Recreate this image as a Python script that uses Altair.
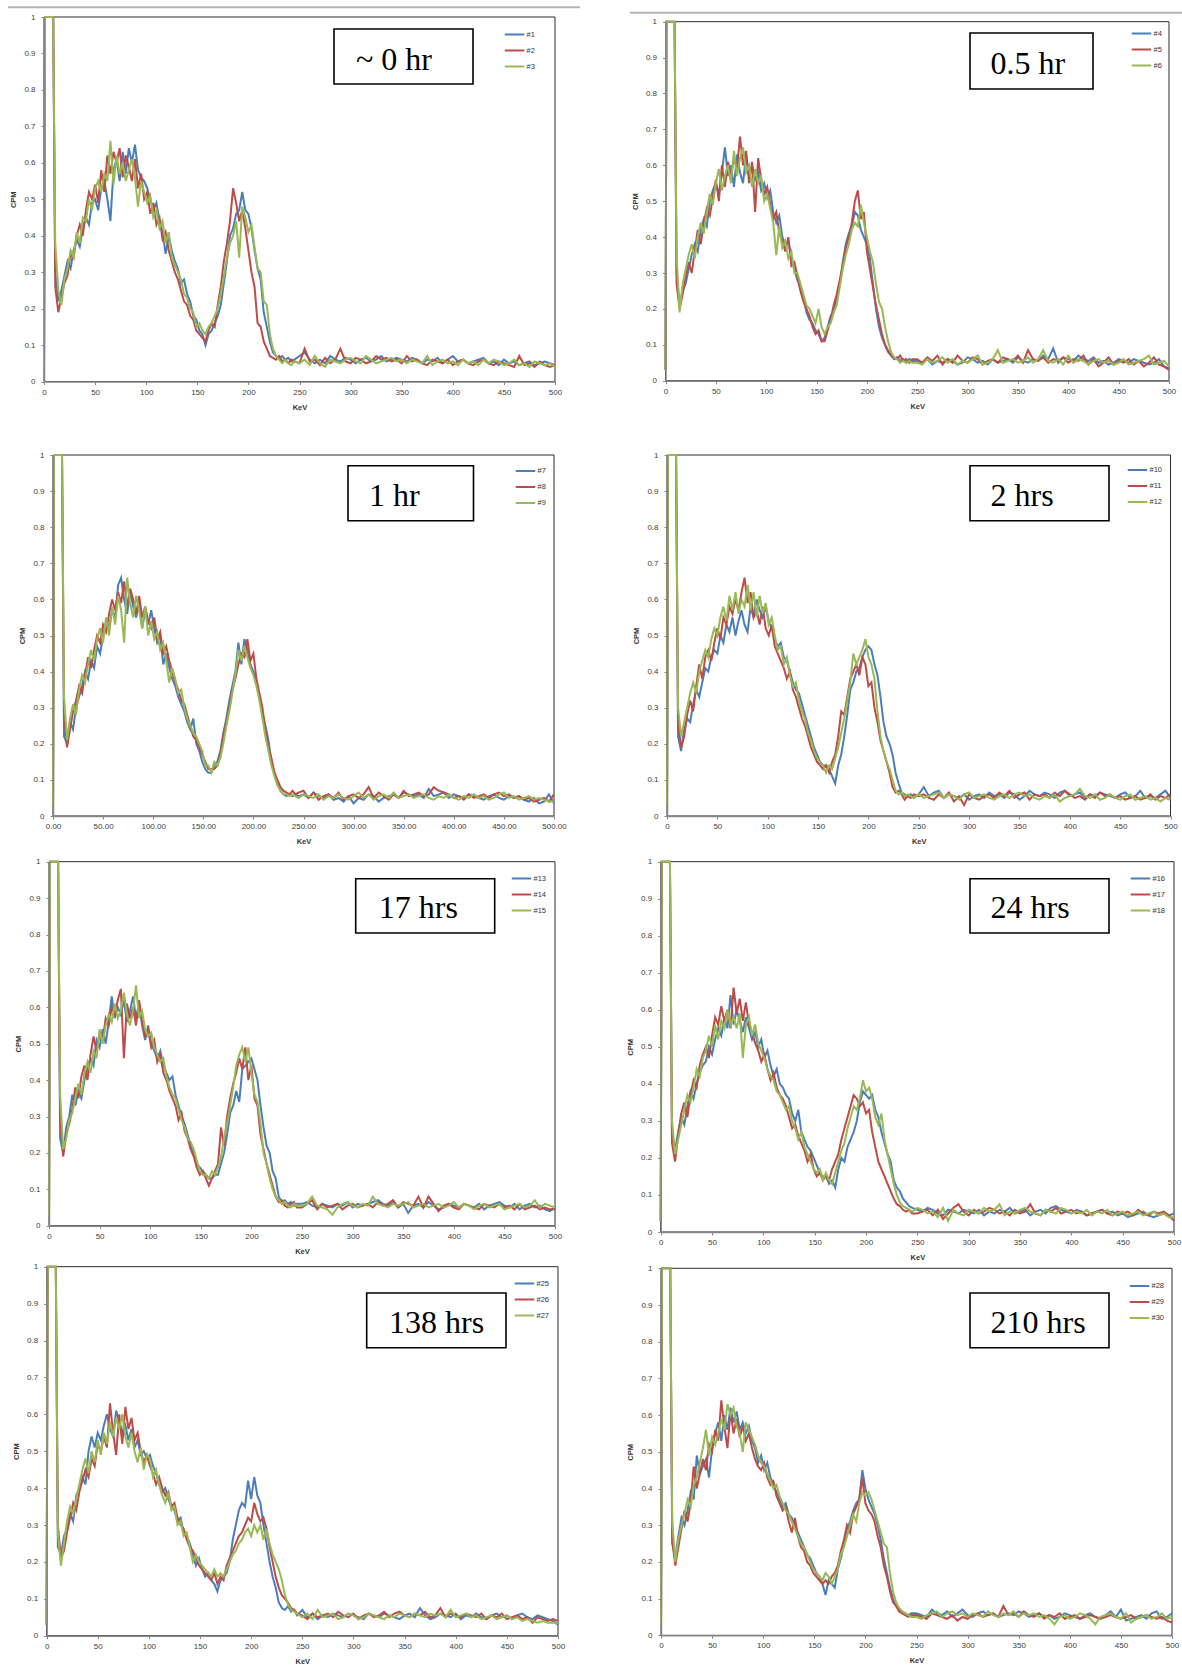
import altair as alt
import pandas as pd

# ---------------- energy grid (keV) ----------------
KEV_MAIN = [0, 1, 9,
    11, 14, 17, 20, 23, 26, 29, 32, 35, 38,
    41, 44, 47, 50, 53, 56, 59, 62, 65, 68,
    71, 74, 77, 80, 83, 86, 89, 92, 95, 98,
    101, 104, 107, 110, 113, 116, 119, 122, 125, 128,
    131, 134, 137, 140, 143, 146, 149, 152, 155, 158,
    161, 164, 167, 170, 173, 176, 179, 182, 185, 188,
    191, 194, 197, 200, 203, 206, 209, 212, 215, 218,
    221, 224, 227, 230, 233, 236, 239, 242, 245]
KEV_TAIL = [250, 255, 260, 265, 270, 275, 280, 285, 290, 295,
    300, 305, 310, 315, 320, 325, 330, 335, 340, 345,
    350, 355, 360, 365, 370, 375, 380, 385, 390, 395,
    400, 405, 410, 415, 420, 425, 430, 435, 440, 445,
    450, 455, 460, 465, 470, 475, 480, 485, 490, 495,
    500]

# ---------------- CPM values, 0..245 keV ----------------
P1_1 = [.03, 1.3, 1.3,
    .30, .22, .25, .29, .33, .31, .36, .39, .37, .42,
    .45, .43, .49, .50, .47, .53, .55, .50, .44, .58,
    .61, .55, .63, .57, .64, .60, .65, .58, .56, .55,
    .53, .50, .47, .49, .44, .41, .35, .40, .36, .33,
    .31, .27, .28, .24, .22, .18, .17, .14, .13, .10,
    .13, .14, .16, .18, .21, .27, .33, .40, .42, .46,
    .47, .52, .47, .46, .42, .36, .31, .28, .19, .15,
    .11, .08, .07, .065, .07, .06, .065, .055, .06]
P1_2 = [.03, 1.3, 1.3,
    .26, .19, .23, .27, .29, .35, .34, .40, .43, .40,
    .47, .52, .50, .54, .49, .58, .52, .62, .57, .63,
    .60, .64, .56, .62, .59, .55, .61, .53, .57, .50,
    .52, .46, .49, .43, .45, .39, .41, .36, .33, .30,
    .28, .25, .22, .21, .18, .17, .14, .13, .12, .11,
    .14, .16, .15, .21, .26, .33, .38, .44, .53, .49,
    .44, .47, .42, .36, .30, .26, .16, .15, .11, .09,
    .07, .065, .06, .07, .055, .06, .05, .06, .055]
P1_3 = [.03, 1.3, 1.3,
    .38, .25, .21, .28, .31, .36, .34, .41, .38, .45,
    .44, .50, .47, .53, .55, .52, .57, .55, .66, .54,
    .62, .57, .60, .55, .58, .61, .56, .48, .55, .52,
    .49, .51, .45, .47, .42, .44, .38, .41, .34, .32,
    .30, .28, .24, .23, .20, .19, .15, .16, .14, .13,
    .15, .16, .18, .20, .24, .29, .34, .38, .40, .44,
    .34, .48, .45, .41, .43, .37, .31, .30, .22, .21,
    .13, .09, .07, .06, .05, .06, .05, .045, .055]

P2_1 = [.03, 1.3, 1.3,
    .30, .21, .25, .27, .31, .35, .38, .36, .42, .45,
    .43, .50, .53, .55, .52, .58, .65, .57, .60, .54,
    .63, .58, .55, .63, .57, .60, .56, .58, .53, .55,
    .51, .53, .47, .44, .46, .40, .38, .39, .34, .31,
    .28, .26, .23, .19, .17, .16, .14, .13, .11, .12,
    .15, .18, .19, .23, .27, .33, .38, .41, .43, .47,
    .46, .42, .40, .38, .34, .27, .20, .15, .12, .10,
    .08, .07, .06, .065, .055, .06, .05, .06, .055]
P2_2 = [.03, 1.3, 1.3,
    .27, .20, .24, .29, .33, .30, .36, .42, .38, .44,
    .48, .46, .51, .56, .50, .60, .54, .61, .57, .62,
    .59, .68, .60, .64, .55, .61, .47, .62, .56, .52,
    .54, .49, .45, .47, .41, .39, .36, .40, .32, .33,
    .29, .25, .22, .20, .18, .15, .13, .14, .11, .11,
    .14, .17, .21, .24, .28, .32, .37, .40, .44, .50,
    .53, .45, .47, .36, .31, .26, .21, .17, .13, .10,
    .085, .07, .065, .06, .07, .055, .06, .05, .06]
P2_3 = [.03, 1.3, 1.3,
    .35, .19, .27, .31, .35, .38, .34, .40, .44, .41,
    .47, .52, .49, .55, .59, .53, .57, .60, .55, .64,
    .57, .62, .65, .58, .60, .54, .59, .55, .57, .50,
    .52, .48, .44, .35, .43, .37, .39, .34, .36, .30,
    .30, .27, .24, .21, .20, .18, .16, .20, .15, .13,
    .15, .16, .19, .21, .26, .31, .35, .38, .42, .44,
    .43, .49, .44, .40, .36, .33, .27, .22, .20, .15,
    .11, .08, .065, .06, .05, .055, .05, .055, .05]

P3_1 = [.03, 1.3, 1.3,
    .22, .20, .26, .24, .30, .33, .36, .40, .38, .43,
    .41, .47, .45, .50, .54, .52, .57, .55, .64, .66,
    .60, .56, .62, .58, .55, .59, .52, .57, .53, .57,
    .52, .48, .50, .42, .45, .41, .38, .36, .33, .31,
    .29, .26, .24, .27, .20, .18, .15, .13, .12, .12,
    .14, .15, .18, .23, .27, .32, .36, .40, .48, .42,
    .49, .46, .42, .40, .37, .33, .28, .25, .21, .15,
    .12, .09, .07, .06, .055, .06, .055, .06, .055]
P3_2 = [.03, 1.3, 1.3,
    .29, .19, .24, .29, .32, .36, .34, .39, .44, .41,
    .46, .50, .48, .53, .51, .56, .60, .57, .62, .59,
    .65, .58, .63, .60, .56, .61, .55, .58, .54, .52,
    .55, .49, .51, .45, .47, .43, .40, .37, .35, .32,
    .31, .28, .25, .22, .21, .19, .17, .15, .13, .13,
    .13, .14, .17, .22, .26, .30, .35, .38, .42, .45,
    .44, .49, .43, .45, .38, .34, .30, .24, .19, .16,
    .12, .10, .08, .07, .065, .06, .07, .06, .065]
P3_3 = [.03, 1.3, 1.3,
    .33, .21, .27, .31, .28, .35, .39, .37, .42, .46,
    .43, .49, .52, .48, .55, .50, .58, .53, .61, .57,
    .48, .66, .59, .55, .61, .57, .52, .58, .50, .54,
    .49, .51, .46, .48, .43, .37, .41, .38, .34, .35,
    .30, .27, .25, .23, .22, .20, .18, .14, .14, .12,
    .15, .14, .16, .20, .25, .29, .34, .39, .46, .43,
    .47, .44, .41, .39, .36, .32, .27, .22, .18, .14,
    .11, .085, .07, .06, .06, .055, .06, .055, .05]

P4_1 = [.03, 1.3, 1.3,
    .22, .18, .24, .27, .26, .31, .35, .33, .37, .41,
    .40, .44, .46, .45, .50, .48, .53, .51, .55, .50,
    .54, .57, .53, .51, .58, .55, .60, .57, .55, .58,
    .54, .52, .49, .47, .48, .44, .43, .40, .37, .35,
    .34, .31, .28, .25, .22, .19, .17, .15, .14, .14,
    .13, .11, .09, .14, .17, .22, .28, .35, .37, .40,
    .41, .44, .46, .47, .46, .42, .39, .33, .26, .22,
    .20, .17, .12, .09, .065, .06, .055, .06, .05]
P4_2 = [.03, 1.3, 1.3,
    .26, .19, .22, .28, .32, .29, .36, .42, .38, .44,
    .46, .43, .48, .52, .49, .55, .53, .58, .56, .60,
    .57, .62, .66, .59, .62, .55, .57, .53, .58, .52,
    .50, .53, .47, .45, .43, .41, .38, .40, .35, .33,
    .30, .27, .25, .22, .19, .17, .15, .14, .13, .14,
    .12, .15, .17, .22, .29, .28, .33, .38, .40, .42,
    .39, .44, .42, .36, .37, .30, .26, .21, .18, .15,
    .12, .08, .065, .07, .06, .045, .055, .05, .06]
P4_3 = [.03, 1.3, 1.3,
    .30, .22, .26, .30, .34, .37, .34, .40, .43, .46,
    .44, .49, .52, .50, .55, .58, .54, .61, .57, .62,
    .56, .60, .58, .64, .57, .62, .55, .61, .56, .59,
    .53, .55, .50, .46, .47, .42, .44, .39, .36, .37,
    .32, .29, .27, .23, .21, .18, .16, .15, .14, .12,
    .14, .13, .16, .19, .23, .27, .32, .37, .45, .42,
    .44, .46, .49, .44, .42, .38, .29, .22, .18, .15,
    .13, .10, .07, .06, .065, .055, .06, .055, .05]

P5_1 = [.03, 1.3, 1.3,
    .24, .20, .27, .30, .36, .33, .37, .35, .40, .43,
    .46, .44, .51, .49, .54, .50, .56, .63, .57, .60,
    .58, .62, .56, .59, .63, .57, .61, .55, .51, .55,
    .50, .48, .46, .48, .44, .42, .40, .41, .36, .33,
    .30, .28, .25, .22, .20, .17, .16, .15, .14, .13,
    .13, .14, .14, .17, .20, .25, .31, .33, .37, .34,
    .43, .44, .45, .46, .43, .40, .33, .27, .22, .20,
    .15, .13, .08, .065, .07, .06, .065, .055, .06]
P5_2 = [.03, 1.3, 1.3,
    .30, .19, .25, .28, .32, .38, .35, .41, .44, .40,
    .47, .52, .48, .53, .51, .57, .55, .60, .58, .62,
    .65, .46, .61, .57, .60, .55, .62, .56, .52, .54,
    .49, .51, .45, .47, .42, .40, .37, .35, .33, .29,
    .31, .26, .24, .21, .19, .16, .14, .15, .13, .11,
    .13, .15, .17, .27, .22, .30, .35, .39, .42, .46,
    .43, .49, .40, .44, .35, .33, .25, .21, .17, .14,
    .11, .08, .065, .07, .055, .05, .06, .065, .05]
P5_3 = [.03, 1.3, 1.3,
    .36, .21, .24, .29, .31, .35, .39, .36, .42, .45,
    .42, .48, .46, .54, .50, .55, .58, .56, .61, .57,
    .59, .64, .58, .55, .59, .66, .57, .59, .54, .52,
    .53, .49, .47, .45, .46, .41, .38, .36, .35, .32,
    .29, .27, .24, .23, .21, .18, .15, .14, .14, .13,
    .15, .14, .16, .19, .24, .28, .33, .38, .44, .47,
    .49, .45, .49, .42, .36, .34, .28, .20, .17, .13,
    .10, .08, .07, .06, .065, .055, .05, .06, .055]

P6_1 = [.03, 1.3, 1.3,
    .27, .22, .27, .31, .29, .34, .38, .36, .40, .43,
    .45, .46, .50, .48, .52, .55, .53, .58, .55, .64,
    .56, .60, .57, .54, .58, .55, .52, .54, .50, .52,
    .47, .49, .45, .42, .44, .40, .39, .37, .36, .32,
    .30, .33, .27, .25, .23, .22, .20, .18, .16, .15,
    .15, .13, .14, .12, .17, .20, .19, .23, .25, .27,
    .30, .35, .38, .37, .36, .37, .33, .31, .27, .24,
    .21, .19, .14, .12, .11, .09, .08, .07, .065]
P6_2 = [.03, 1.3, 1.3,
    .24, .19, .26, .32, .35, .31, .37, .41, .39, .45,
    .48, .50, .47, .53, .58, .56, .61, .57, .60, .55,
    .66, .59, .63, .57, .62, .56, .54, .51, .49, .46,
    .48, .44, .41, .43, .39, .37, .36, .34, .31, .28,
    .29, .26, .24, .22, .19, .21, .17, .15, .16, .14,
    .15, .14, .17, .19, .21, .25, .28, .31, .34, .37,
    .36, .34, .35, .32, .33, .27, .23, .19, .17, .15,
    .13, .11, .09, .075, .07, .06, .055, .06, .05]
P6_3 = [.03, 1.3, 1.3,
    .30, .21, .25, .29, .33, .37, .35, .39, .44, .42,
    .47, .49, .53, .50, .56, .52, .57, .55, .60, .56,
    .58, .55, .59, .47, .56, .58, .53, .56, .51, .49,
    .47, .44, .42, .41, .38, .37, .35, .33, .34, .30,
    .28, .25, .27, .23, .21, .19, .17, .16, .17, .14,
    .16, .14, .13, .16, .19, .22, .24, .28, .31, .34,
    .33, .36, .41, .38, .39, .36, .31, .29, .32, .25,
    .21, .17, .13, .10, .08, .07, .065, .06, .055]

P7_1 = [.03, 1.3, 1.3,
    .24, .22, .27, .29, .33, .31, .38, .40, .43, .41,
    .50, .54, .51, .55, .53, .57, .60, .56, .54, .61,
    .58, .55, .57, .53, .56, .51, .53, .49, .50, .48,
    .49, .46, .44, .41, .39, .40, .37, .35, .34, .31,
    .32, .28, .27, .25, .22, .19, .21, .18, .16, .17,
    .15, .14, .12, .15, .16, .17, .20, .26, .30, .34,
    .36, .35, .42, .37, .43, .38, .36, .30, .25, .20,
    .16, .13, .09, .075, .07, .08, .065, .07, .055]
P7_2 = [.03, 1.3, 1.3,
    .30, .21, .23, .28, .32, .36, .34, .39, .42, .45,
    .43, .48, .46, .52, .50, .54, .51, .63, .55, .49,
    .60, .52, .62, .56, .59, .53, .55, .50, .47, .49,
    .46, .44, .41, .43, .40, .38, .39, .35, .36, .32,
    .30, .29, .26, .24, .23, .21, .19, .18, .17, .16,
    .15, .17, .14, .16, .15, .19, .21, .23, .25, .27,
    .28, .30, .32, .31, .36, .33, .31, .32, .29, .24,
    .20, .16, .13, .11, .10, .09, .075, .07, .06]
P7_3 = [.03, 1.3, 1.3,
    .28, .19, .25, .31, .35, .33, .37, .41, .45, .48,
    .44, .50, .47, .53, .49, .55, .52, .58, .54, .59,
    .56, .60, .54, .51, .55, .50, .47, .51, .45, .49,
    .48, .43, .45, .41, .38, .36, .39, .34, .35, .30,
    .31, .27, .28, .24, .20, .22, .20, .19, .18, .17,
    .16, .18, .16, .17, .16, .18, .20, .22, .23, .25,
    .26, .28, .29, .27, .30, .28, .30, .26, .29, .25,
    .22, .20, .18, .15, .11, .085, .07, .065, .06]

P8_1 = [.03, 1.3, 1.3,
    .25, .21, .27, .32, .30, .34, .39, .37, .49, .44,
    .46, .48, .43, .51, .55, .58, .53, .60, .56, .62,
    .58, .61, .56, .58, .55, .57, .53, .51, .47, .49,
    .45, .47, .43, .41, .39, .37, .35, .36, .33, .32,
    .30, .28, .26, .24, .22, .21, .19, .17, .16, .14,
    .11, .15, .14, .13, .18, .21, .25, .29, .31, .34,
    .36, .37, .45, .40, .37, .35, .33, .30, .26, .21,
    .17, .13, .10, .08, .07, .065, .06, .055, .06]
P8_2 = [.03, 1.3, 1.3,
    .26, .19, .24, .29, .34, .31, .36, .46, .40, .44,
    .48, .45, .52, .50, .56, .53, .64, .57, .51, .61,
    .55, .59, .54, .57, .53, .55, .51, .48, .46, .45,
    .47, .43, .41, .42, .38, .36, .34, .35, .31, .28,
    .32, .27, .24, .23, .20, .19, .17, .16, .15, .14,
    .15, .14, .16, .17, .19, .23, .26, .30, .28, .33,
    .35, .37, .43, .36, .34, .33, .31, .27, .24, .19,
    .16, .12, .09, .08, .065, .06, .055, .05, .055]
P8_3 = [.03, 1.3, 1.3,
    .31, .20, .26, .30, .33, .37, .35, .41, .43, .47,
    .51, .56, .49, .54, .52, .55, .59, .56, .63, .60,
    .62, .57, .55, .50, .58, .56, .54, .52, .49, .47,
    .46, .44, .42, .40, .41, .38, .36, .34, .33, .31,
    .29, .27, .25, .24, .22, .20, .18, .17, .16, .15,
    .17, .16, .14, .16, .18, .22, .24, .27, .30, .33,
    .31, .36, .39, .38, .39, .37, .34, .31, .28, .25,
    .24, .17, .12, .09, .075, .065, .06, .055, .05]

# ---------------- CPM values, 250..500 keV ----------------
T1_1 = [.07, .08, .06, .05, .06, .05, .07, .06, .055, .065,
    .06, .05, .06, .065, .055, .06, .07, .055, .06, .065,
    .06, .055, .065, .06, .05, .06, .055, .065, .05, .06,
    .07, .055, .06, .05, .055, .06, .065, .05, .055, .045,
    .06, .05, .055, .045, .05, .055, .045, .05, .055, .05, .045]
T1_2 = [.05, .09, .055, .06, .045, .065, .05, .06, .09, .055,
    .05, .065, .06, .05, .055, .07, .06, .065, .055, .06,
    .05, .07, .055, .06, .05, .045, .06, .055, .05, .06,
    .045, .055, .06, .05, .045, .055, .06, .05, .045, .055,
    .05, .045, .04, .07, .045, .05, .04, .055, .045, .04, .045]
T1_3 = [.05, .06, .045, .07, .05, .04, .06, .055, .05, .06,
    .065, .055, .05, .07, .06, .05, .055, .06, .065, .055,
    .06, .05, .06, .055, .05, .07, .045, .055, .06, .05,
    .055, .045, .06, .05, .055, .045, .06, .05, .06, .055,
    .045, .05, .06, .045, .05, .04, .055, .05, .045, .05, .04]
T2_1 = [.055, .05, .06, .045, .055, .05, .06, .055, .045, .05,
    .065, .06, .05, .055, .045, .06, .05, .055, .06, .05,
    .065, .055, .05, .06, .055, .07, .06, .09, .05, .065,
    .06, .055, .07, .06, .055, .065, .05, .055, .045, .05,
    .06, .055, .05, .06, .055, .05, .045, .05, .06, .04, .035]
T2_2 = [.06, .05, .065, .055, .07, .045, .06, .05, .07, .055,
    .05, .065, .06, .045, .055, .06, .05, .065, .06, .055,
    .07, .05, .085, .06, .055, .065, .05, .06, .055, .065,
    .05, .06, .055, .07, .045, .06, .04, .05, .065, .045,
    .055, .05, .06, .045, .055, .04, .05, .065, .045, .04, .03]
T2_3 = [.05, .045, .06, .05, .055, .065, .05, .06, .045, .055,
    .05, .06, .07, .045, .05, .06, .085, .05, .055, .06,
    .05, .055, .065, .05, .06, .085, .055, .05, .06, .045,
    .07, .05, .06, .055, .045, .055, .06, .05, .055, .045,
    .05, .06, .045, .05, .055, .06, .07, .045, .05, .055, .04]
T3_1 = [.06, .05, .065, .055, .05, .06, .045, .05, .04, .055,
    .035, .05, .045, .06, .055, .04, .05, .055, .06, .05,
    .065, .06, .055, .06, .05, .075, .055, .06, .065, .05,
    .06, .055, .05, .06, .055, .05, .045, .055, .06, .05,
    .045, .055, .05, .055, .045, .04, .05, .035, .04, .06, .035]
T3_2 = [.07, .05, .065, .045, .055, .06, .05, .065, .045, .055,
    .06, .05, .06, .08, .05, .065, .055, .045, .06, .05,
    .07, .055, .06, .065, .055, .06, .08, .07, .065, .06,
    .05, .055, .045, .06, .05, .055, .06, .05, .06, .065,
    .055, .06, .05, .055, .045, .05, .04, .045, .05, .04, .06]
T3_3 = [.06, .055, .05, .06, .045, .055, .05, .06, .05, .045,
    .055, .065, .05, .06, .045, .055, .06, .05, .065, .05,
    .055, .06, .05, .055, .06, .05, .045, .055, .05, .06,
    .05, .045, .055, .05, .06, .05, .055, .045, .05, .06,
    .065, .05, .055, .045, .05, .055, .045, .05, .045, .04, .04]
T4_1 = [.06, .08, .055, .065, .07, .05, .06, .055, .05, .06,
    .045, .055, .06, .05, .065, .055, .06, .05, .065, .06,
    .045, .055, .07, .06, .055, .065, .06, .05, .065, .07,
    .055, .06, .065, .05, .06, .055, .065, .06, .055, .05,
    .06, .065, .05, .055, .07, .05, .055, .05, .06, .07, .05]
T4_2 = [.055, .06, .05, .045, .06, .05, .065, .04, .055, .03,
    .06, .05, .045, .055, .06, .05, .065, .055, .07, .05,
    .06, .065, .045, .06, .055, .06, .05, .065, .055, .07,
    .06, .05, .055, .045, .06, .05, .065, .055, .06, .05,
    .055, .045, .05, .055, .045, .05, .06, .045, .055, .05, .06]
T4_3 = [.06, .05, .055, .06, .065, .05, .06, .055, .045, .06,
    .065, .05, .055, .06, .05, .045, .055, .06, .05, .06,
    .065, .055, .06, .05, .045, .055, .05, .06, .04, .05,
    .055, .06, .075, .055, .05, .06, .045, .05, .06, .05,
    .045, .055, .06, .045, .05, .055, .045, .05, .04, .05, .045]
T5_1 = [.06, .065, .055, .05, .06, .055, .05, .06, .055, .065,
    .05, .06, .055, .06, .065, .07, .06, .055, .065, .05,
    .06, .035, .055, .06, .05, .065, .055, .045, .05, .06,
    .055, .05, .06, .055, .05, .06, .045, .055, .06, .065,
    .055, .05, .06, .045, .055, .06, .05, .055, .045, .04, .05]
T5_2 = [.05, .06, .07, .045, .06, .05, .055, .06, .045, .055,
    .06, .05, .055, .06, .05, .065, .055, .06, .07, .05,
    .065, .06, .055, .08, .05, .08, .06, .04, .055, .06,
    .05, .045, .06, .055, .05, .045, .06, .055, .05, .06,
    .05, .055, .045, .06, .045, .05, .055, .045, .05, .045, .045]
T5_3 = [.055, .06, .08, .055, .05, .045, .03, .05, .06, .065,
    .055, .05, .06, .055, .08, .06, .055, .05, .06, .055,
    .06, .065, .05, .055, .06, .05, .055, .06, .05, .055,
    .065, .05, .06, .055, .045, .055, .06, .05, .055, .06,
    .045, .05, .055, .06, .05, .055, .07, .05, .06, .055, .05]
T6_1 = [.06, .055, .065, .06, .05, .045, .06, .055, .05, .06,
    .055, .05, .06, .045, .055, .05, .06, .055, .065, .05,
    .055, .06, .045, .055, .06, .05, .065, .07, .06, .055,
    .05, .06, .055, .045, .05, .055, .06, .05, .055, .045,
    .05, .04, .045, .05, .055, .045, .04, .045, .05, .045, .05]
T6_2 = [.05, .055, .06, .045, .06, .035, .05, .065, .075, .055,
    .045, .06, .05, .055, .065, .06, .05, .055, .045, .06,
    .05, .055, .075, .05, .045, .06, .055, .065, .05, .055,
    .06, .05, .055, .045, .05, .055, .06, .05, .045, .055,
    .05, .055, .045, .06, .05, .045, .055, .05, .055, .045, .03]
T6_3 = [.065, .06, .05, .055, .04, .065, .03, .06, .05, .045,
    .06, .055, .05, .065, .055, .06, .075, .045, .055, .05,
    .06, .065, .055, .05, .045, .06, .055, .05, .065, .06,
    .05, .055, .05, .06, .045, .055, .05, .06, .045, .05,
    .055, .045, .05, .055, .045, .05, .055, .045, .05, .04, .04]
T7_1 = [.07, .05, .06, .045, .055, .05, .06, .055, .05, .06,
    .055, .05, .045, .06, .055, .05, .06, .055, .05, .045,
    .055, .06, .05, .075, .055, .045, .05, .06, .055, .05,
    .06, .045, .055, .05, .06, .05, .045, .055, .06, .05,
    .055, .045, .055, .06, .05, .045, .055, .05, .045, .04, .03]
T7_2 = [.055, .045, .06, .05, .055, .06, .05, .065, .055, .05,
    .06, .045, .055, .06, .05, .055, .065, .05, .06, .065,
    .055, .05, .06, .055, .065, .05, .055, .075, .05, .06,
    .055, .05, .06, .055, .05, .06, .045, .055, .05, .06,
    .045, .05, .055, .045, .05, .035, .05, .045, .04, .045, .04]
T7_3 = [.05, .06, .045, .07, .05, .055, .06, .045, .05, .06,
    .055, .045, .05, .06, .055, .05, .045, .055, .05, .06,
    .055, .05, .06, .055, .05, .06, .055, .06, .05, .07,
    .05, .055, .06, .05, .055, .045, .05, .055, .045, .05,
    .055, .045, .05, .04, .045, .04, .035, .04, .035, .035, .035]
T8_1 = [.06, .055, .05, .07, .06, .055, .065, .05, .06, .07,
    .055, .05, .06, .065, .055, .06, .05, .055, .06, .055,
    .065, .06, .05, .055, .06, .05, .055, .045, .05, .06,
    .055, .05, .045, .055, .06, .05, .045, .055, .065, .05,
    .07, .04, .045, .05, .055, .045, .06, .065, .045, .05, .06]
T8_2 = [.055, .05, .045, .06, .055, .05, .045, .055, .04, .05,
    .045, .055, .06, .05, .055, .06, .05, .08, .055, .06,
    .05, .065, .055, .05, .06, .045, .055, .05, .06, .045,
    .05, .055, .045, .05, .055, .05, .045, .05, .055, .05,
    .045, .05, .055, .045, .05, .055, .05, .045, .05, .04, .035]
T8_3 = [.05, .045, .055, .06, .065, .05, .06, .065, .055, .06,
    .05, .06, .055, .05, .065, .055, .05, .06, .055, .065,
    .05, .06, .055, .06, .05, .055, .045, .03, .05, .055,
    .045, .05, .06, .055, .045, .03, .05, .055, .06, .05,
    .045, .06, .035, .045, .05, .055, .045, .05, .06, .045, .05]

MAINS = [[P1_1, P1_2, P1_3], [P2_1, P2_2, P2_3], [P3_1, P3_2, P3_3], [P4_1, P4_2, P4_3],
         [P5_1, P5_2, P5_3], [P6_1, P6_2, P6_3], [P7_1, P7_2, P7_3], [P8_1, P8_2, P8_3]]
TAILS = [[T1_1, T1_2, T1_3], [T2_1, T2_2, T2_3], [T3_1, T3_2, T3_3], [T4_1, T4_2, T4_3],
         [T5_1, T5_2, T5_3], [T6_1, T6_2, T6_3], [T7_1, T7_2, T7_3], [T8_1, T8_2, T8_3]]

TITLES = ["~ 0 hr", "0.5 hr", "1 hr", "2 hrs", "17 hrs", "24 hrs", "138 hrs", "210 hrs"]
SERIES = [["#1", "#2", "#3"], ["#4", "#5", "#6"], ["#7", "#8", "#9"], ["#10", "#11", "#12"],
          ["#13", "#14", "#15"], ["#16", "#17", "#18"], ["#25", "#26", "#27"], ["#28", "#29", "#30"]]
X_TICKS = [0, 50, 100, 150, 200, 250, 300, 350, 400, 450, 500]
Y_TICKS = [0, 0.1, 0.2, 0.3, 0.4, 0.5, 0.6, 0.7, 0.8, 0.9, 1]
X_FORMATS = ["d", "d", ".2f", "d", "d", "d", "d", "d"]
COLORS = ["#4a7ebb", "#be4b48", "#98b954"]

W, H = 1182, 1667

# layout (pixels): plot area, title box, title text anchor, legend anchor
GEOM = [
    dict(l=44, r=555, t=17, b=381.5, box=(334, 473, 29, 84), tx=(356, 70), lg=(503.5, 23.5)),
    dict(l=665.5, r=1169, t=21.7, b=380.7, box=(970, 1093, 33, 89), tx=(990.6, 74), lg=(1130.5, 22.5)),
    dict(l=53, r=554, t=455, b=816, box=(348, 473.5, 465.7, 520.7), tx=(369, 506), lg=(514.5, 460)),
    dict(l=667, r=1170.5, t=455, b=816, box=(970, 1109, 465.7, 520.7), tx=(990.6, 506), lg=(1126.5, 459)),
    dict(l=49, r=555, t=861.7, b=1225.7, box=(355.7, 494.7, 878.7, 933), tx=(378.8, 918.3), lg=(510.5, 867.5)),
    dict(l=660.7, r=1174, t=861.7, b=1232, box=(970, 1109, 878.7, 933), tx=(990.6, 918.3), lg=(1129.5, 867.5)),
    dict(l=46.6, r=558, t=1266.7, b=1635.7, box=(366.7, 506, 1293, 1347.7), tx=(389, 1333.3), lg=(513.5, 1272.5)),
    dict(l=661, r=1172, t=1268.3, b=1635.3, box=(970, 1109, 1293, 1347.7), tx=(990.6, 1333.3), lg=(1128.5, 1275)),
]

ONE = pd.DataFrame({"k": [0]})
frames, lines, boxes, texts = [], [], [], []

for i, g in enumerate(GEOM):
    rows = []
    for s, main, tail in zip(SERIES[i], MAINS[i], TAILS[i]):
        for k, v in zip(KEV_MAIN + KEV_TAIL, main + tail):
            rows.append({"keV": k, "cpm": v, "series": s})
    df = pd.DataFrame(rows)

    frames.append(
        alt.Chart(ONE).mark_rect(fillOpacity=0, stroke="#2a2a2a", strokeWidth=1).encode(
            x=alt.value(g["l"]), x2=alt.value(g["r"]), y=alt.value(g["t"]), y2=alt.value(g["b"]))
    )

    lines.append(
        alt.Chart(df).mark_line(strokeWidth=2).encode(
            x=alt.X("keV:Q",
                    scale=alt.Scale(domain=[0, 500], range=[g["l"], g["r"]], nice=False, zero=False),
                    axis=alt.Axis(orient="bottom", offset=g["b"] - H, values=X_TICKS, format=X_FORMATS[i],
                                  title="KeV", grid=False, domain=True, domainColor="#868686",
                                  domainWidth=1.5, zindex=1, labelFlush=False,
                                  labelOverlap=False, tickSize=3, tickColor="#868686",
                                  labelFontSize=8, labelColor="#404040", labelPadding=3.5,
                                  titleFontSize=7.5, titleFontWeight="bold", titleColor="#333333",
                                  titlePadding=7)),
            y=alt.Y("cpm:Q",
                    scale=alt.Scale(domain=[0, 1], range=[g["b"], g["t"]], nice=False, zero=False, clamp=True),
                    axis=alt.Axis(orient="left", offset=-g["l"], values=Y_TICKS, format="~g",
                                  title="CPM", grid=False, domain=True, domainColor="#868686",
                                  domainWidth=1.5, zindex=1, labelOverlap=False,
                                  tickSize=3, tickColor="#868686", labelFontSize=8,
                                  labelColor="#404040", labelPadding=6, titleFontSize=7.5,
                                  titleFontWeight="bold", titleColor="#333333", titlePadding=6)),
            color=alt.Color("series:N",
                            scale=alt.Scale(domain=SERIES[i], range=COLORS),
                            legend=alt.Legend(orient="none", legendX=g["lg"][0], legendY=g["lg"][1],
                                              title=None, symbolType="stroke", symbolSize=380,
                                              symbolStrokeWidth=2, labelFontSize=7.5,
                                              labelColor="#333333", labelOffset=1, rowPadding=1,
                                              padding=0)),
        )
    )

    bx = g["box"]
    boxes.append(
        alt.Chart(ONE).mark_rect(fill="white", stroke="black", strokeWidth=1.6).encode(
            x=alt.value(bx[0]), x2=alt.value(bx[1]), y=alt.value(bx[2]), y2=alt.value(bx[3]))
    )
    texts.append(
        alt.Chart(pd.DataFrame({"label": [TITLES[i]]})).mark_text(
            font="Liberation Serif", fontSize=32, align="left", baseline="alphabetic", color="black"
        ).encode(x=alt.value(g["tx"][0]), y=alt.value(g["tx"][1]), text="label:N")
    )

top_rules = [
    alt.Chart(ONE).mark_rule(color="#b4b4b4", strokeWidth=2).encode(
        x=alt.value(8), x2=alt.value(580), y=alt.value(7.3)),
    alt.Chart(ONE).mark_rule(color="#b4b4b4", strokeWidth=2).encode(
        x=alt.value(630), x2=alt.value(1182), y=alt.value(12.7)),
]

chart = alt.layer(*top_rules, *frames, *lines, *boxes, *texts).resolve_scale(
    x="independent", y="independent", color="independent"
).resolve_axis(
    x="independent", y="independent"
).resolve_legend(
    color="independent"
).properties(
    width=W, height=H, padding=0, background="white",
    autosize=alt.AutoSizeParams(type="none"),
).configure_view(
    strokeWidth=0
).configure_axis(
    labelFont="Liberation Sans", titleFont="Liberation Sans"
).configure_legend(
    labelFont="Liberation Sans"
)

chart.save("out.html", embed_options={"renderer": "svg", "actions": False})
